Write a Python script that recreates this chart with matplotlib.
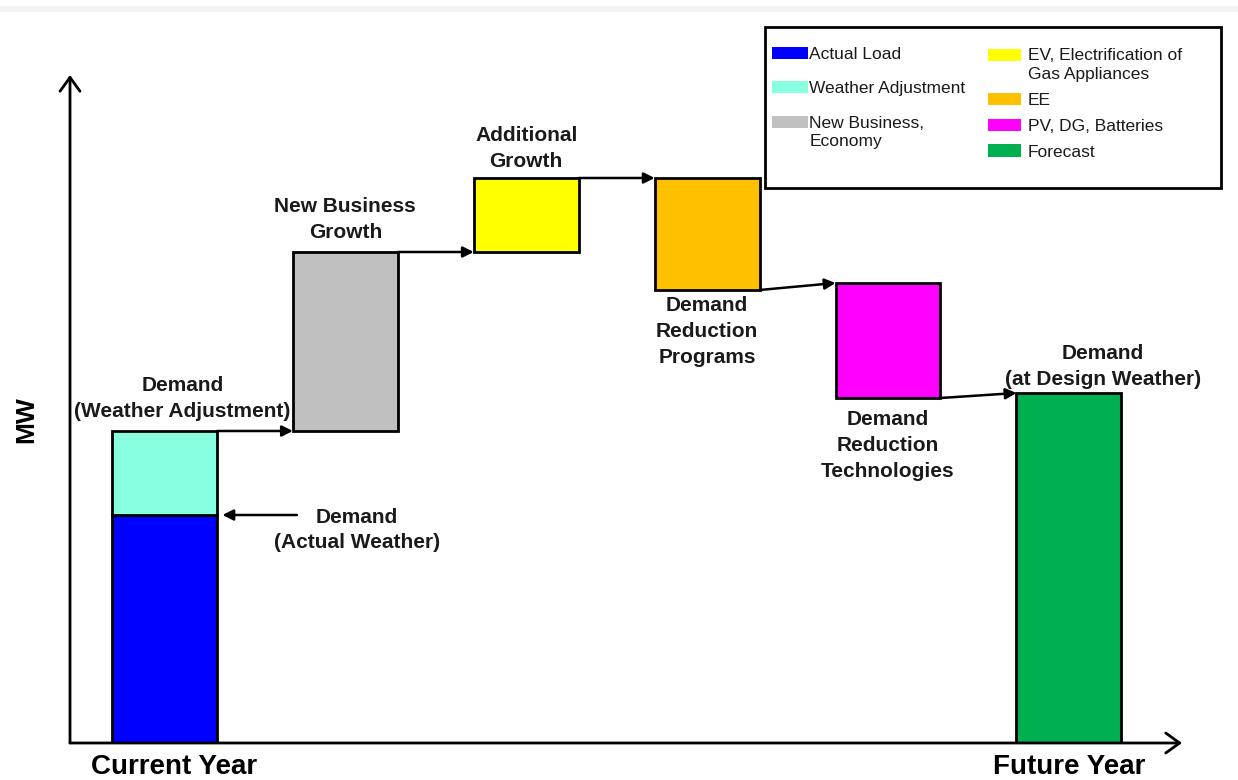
import numpy as np
import matplotlib.pyplot as plt
import matplotlib.transforms as mtransforms
from matplotlib.patches import Patch, Rectangle
from matplotlib.lines import Line2D
from matplotlib.legend_handler import HandlerPatch

plt.rcParams['font.family'] = ['Liberation Sans', 'DejaVu Sans']

# concept chart: demand build-up from current year to future year (MW, no scale shown)
columns = ["Current Year", "New Business Growth", "Additional Growth",
           "Demand Reduction Programs", "Demand Reduction Technologies", "Future Year"]
seg_column = [0, 0, 1, 2, 3, 4, 5]
seg_low = [0, 228, 312, 491, 453, 345, 0]
seg_high = [228, 312, 491, 565, 565, 460, 350]
seg_kind = ["base", "up", "up", "up", "down", "down", "total"]
seg_colors = ["#0000FF", "#88FFDE", "#C0C0C0", "#FFFF00", "#FFC000", "#FF00FF", "#00B050"]

step_labels = ["Demand\n(Weather Adjustment)", "New Business\nGrowth", "Additional\nGrowth",
               "Demand\nReduction\nPrograms", "Demand\nReduction\nTechnologies",
               "Demand\n(at Design Weather)"]
actual_label = "Demand\n(Actual Weather)"
tick_labels = ["Current Year", "Future Year"]

legend_left = ["Actual Load", "Weather Adjustment", "New Business,\nEconomy"]
legend_left_colors = seg_colors[:3]
legend_right = ["EV, Electrification of\nGas Appliances", "EE", "PV, DG, Batteries", "Forecast"]
legend_right_colors = seg_colors[3:]

W, H = 1238, 780
fig = plt.figure(figsize=(W / 100, H / 100), dpi=100)
ax = fig.add_axes([70 / W, 37 / H, 1112 / W, 668 / H])
ax.set_xlim(-0.522, 5.625)
ax.set_ylim(0, 668)
bar_w = 0.58

heights = np.subtract(seg_high, seg_low)
ax.bar(seg_column, heights, bottom=seg_low, width=bar_w, color=seg_colors,
       edgecolor="black", linewidth=2, zorder=3)

# connector arrows between steps
def end_level(i):
    return seg_low[i] if seg_kind[i] == "down" else seg_high[i]

def start_level(i):
    return seg_low[i] if seg_kind[i] == "up" else seg_high[i]

conn = dict(arrowstyle="-|>", color="black", lw=1.8, mutation_scale=16, shrinkA=0, shrinkB=0)
for i in range(1, len(seg_column) - 1):
    ax.annotate("", xy=(seg_column[i + 1] - bar_w / 2, start_level(i + 1)),
                xytext=(seg_column[i] + bar_w / 2, end_level(i)), arrowprops=conn, zorder=4)

# step labels
label_dx = [18, 0, 0, 0, 0, 34]
label_gap = [10, 10, 7, 6, 12, 4]
for k, txt in enumerate(step_labels):
    i = k + 1
    below = seg_kind[i] == "down"
    y = seg_low[i] if below else seg_high[i]
    ax.annotate(txt, xy=(seg_column[i], y), xytext=(label_dx[k], -label_gap[k] if below else label_gap[k]),
                textcoords="offset pixels", ha="center", va="top" if below else "bottom",
                multialignment="center", fontsize=15, fontweight="bold", linespacing=1.45, color="#1a1a1a")

# actual weather pointer
ax.annotate("", xy=(seg_column[0] + bar_w / 2, seg_high[0]), xytext=(80, 0), textcoords="offset pixels",
            arrowprops=dict(arrowstyle="-|>", color="black", lw=1.8, mutation_scale=16, shrinkA=0, shrinkB=4))
ax.annotate(actual_label, xy=(seg_column[0] + bar_w / 2, seg_high[0]), xytext=(140, -15),
            textcoords="offset pixels", ha="center", va="center", multialignment="center",
            fontsize=15, fontweight="bold", linespacing=1.45, color="#1a1a1a")

# axes drawn as arrows
axis_arrow = dict(arrowstyle="->, head_length=0.5, head_width=0.36", color="black", lw=2,
                  mutation_scale=20, shrinkA=0, shrinkB=0)
ax.annotate("", xy=(0, 1), xytext=(0, 0), xycoords="axes fraction", arrowprops=axis_arrow)
ax.annotate("", xy=(1, 0), xytext=(0, 0), xycoords="axes fraction", arrowprops=axis_arrow)
for s in ax.spines.values():
    s.set_visible(False)
ax.set_yticks([])
ax.set_xticks([0, 5], tick_labels, fontsize=20, fontweight="bold")
ax.tick_params(axis="x", length=0, pad=8)
first = ax.get_xticklabels()[0]
first.set_transform(first.get_transform() + mtransforms.ScaledTranslation(10 / 100, 0, fig.dpi_scale_trans))
ax.set_ylabel("MW", fontsize=19, fontweight="bold")
ax.yaxis.set_label_coords(-32 / 1112, (743 - 420) / 668)

# legend
def first_line_patch(legend, orig_handle, xdescent, ydescent, width, height, fontsize):
    n = orig_handle.get_label().count("\n")
    return Rectangle((-xdescent, -ydescent + n * 0.58 * fontsize), width, height)

handler = HandlerPatch(patch_func=first_line_patch)
fig.add_artist(Rectangle((765 / W, 1 - 188 / H), (1221 - 765) / W, (188 - 27) / H,
                         transform=fig.transFigure, fill=False, ec="black", lw=2))
leg_specs = [(legend_left, legend_left_colors, 772, 47, 2.1, 0.05, 1.1),
             (legend_right, legend_right_colors, 988, 48, 1.9, 0.4, 0.62)]
for labels, colors, x0, y0, hl, pad, spacing in leg_specs:
    handles = [Patch(facecolor=c, edgecolor="none", label=l) for l, c in zip(labels, colors)]
    leg = fig.legend(handles=handles, loc="upper left", bbox_to_anchor=(x0 / W, 1 - y0 / H),
                     frameon=False, fontsize=12.5, borderpad=0, borderaxespad=0,
                     handlelength=hl, handleheight=0.7, handletextpad=pad, labelspacing=spacing,
                     handler_map={Patch: handler})
    for t in leg.get_texts():
        t.set_linespacing(1.32)
        t.set_color("#1a1a1a")

fig.add_artist(Line2D([0, 1], [1 - 9 / H] * 2, transform=fig.transFigure, color="#f2f2f2", lw=4))

fig.savefig("out.png", dpi=100)
